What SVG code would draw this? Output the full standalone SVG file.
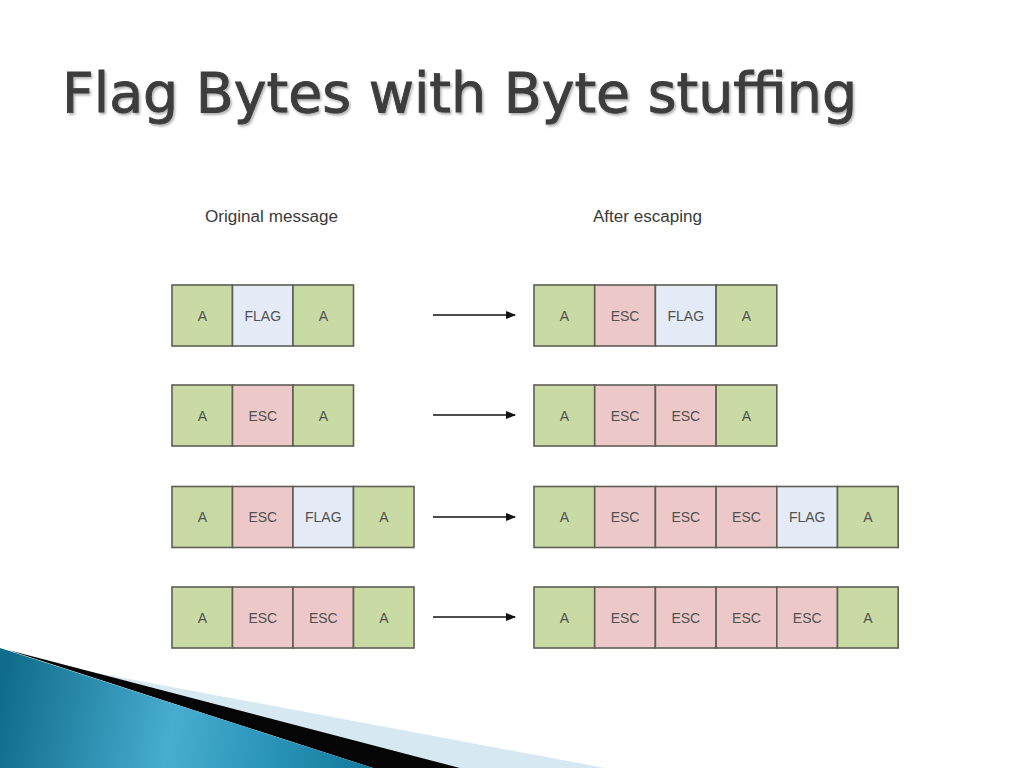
<svg xmlns="http://www.w3.org/2000/svg" width="1024" height="768" viewBox="0 0 1024 768">
<defs>
<style>
.cell{stroke:#5e5e55;stroke-width:1.6}
.a{fill:#cadaa4}
.e{fill:#ecc9c8}
.f{fill:#e5ebf6}
.t{font-family:"Liberation Sans",Arial,sans-serif;font-size:14px;fill:#505050;text-anchor:middle;dominant-baseline:central}
.lbl{font-family:"Liberation Sans",Arial,sans-serif;font-size:16px;fill:#3a3a3a}
.arr{stroke:#111;stroke-width:1.6;fill:none}
</style>
<marker id="ah" markerWidth="10" markerHeight="8" refX="9" refY="4" orient="auto" markerUnits="userSpaceOnUse">
<path d="M0,0 L10,4 L0,8 z" fill="#111"/>
</marker>
<linearGradient id="bg" x1="0" y1="700" x2="380" y2="768" gradientUnits="userSpaceOnUse">
<stop offset="0" stop-color="#106c8a"/>
<stop offset="0.45" stop-color="#48add1"/>
<stop offset="0.75" stop-color="#2690b5"/>
<stop offset="1" stop-color="#117696"/>
</linearGradient>
<filter id="sh" x="-5%" y="-20%" width="110%" height="140%">
<feDropShadow dx="1.5" dy="2" stdDeviation="1.2" flood-color="#000" flood-opacity="0.3"/>
</filter>
</defs>
<rect width="1024" height="768" fill="#ffffff"/>

<g id="decoration">
<polygon points="81,670 605,768 460,768" fill="#d6e8f1"/>
<polygon points="8,650 460,768 373,768" fill="#050505"/>
<polygon points="0,648 373,768 0,768" fill="url(#bg)"/>
</g>

<g id="title">
<text x="62" y="112" font-family="'DejaVu Sans',Verdana,sans-serif" font-size="56" fill="#3c3c3c" stroke="#3c3c3c" stroke-width="0.9" textLength="795" lengthAdjust="spacingAndGlyphs" filter="url(#sh)">Flag Bytes with Byte stuffing</text>
</g>

<g id="labels">
<text class="lbl" x="205" y="222" textLength="133" lengthAdjust="spacingAndGlyphs">Original message</text>
<text class="lbl" x="593" y="222" textLength="109" lengthAdjust="spacingAndGlyphs">After escaping</text>
</g>

<g id="row1-original">
<rect class="cell a" x="172" y="285" width="60.5" height="61"/><text class="t" x="202.3" y="315.5">A</text>
<rect class="cell f" x="232.5" y="285" width="60.5" height="61"/><text class="t" x="262.8" y="315.5">FLAG</text>
<rect class="cell a" x="293" y="285" width="60.5" height="61"/><text class="t" x="323.3" y="315.5">A</text>
</g>
<g id="row1-escaped">
<rect class="cell a" x="534" y="285" width="60.7" height="61"/><text class="t" x="564.4" y="315.5">A</text>
<rect class="cell e" x="594.7" y="285" width="60.7" height="61"/><text class="t" x="625.1" y="315.5">ESC</text>
<rect class="cell f" x="655.4" y="285" width="60.7" height="61"/><text class="t" x="685.8" y="315.5">FLAG</text>
<rect class="cell a" x="716.1" y="285" width="60.7" height="61"/><text class="t" x="746.5" y="315.5">A</text>
</g>

<g id="row2-original">
<rect class="cell a" x="172" y="385" width="60.5" height="61"/><text class="t" x="202.3" y="415.5">A</text>
<rect class="cell e" x="232.5" y="385" width="60.5" height="61"/><text class="t" x="262.8" y="415.5">ESC</text>
<rect class="cell a" x="293" y="385" width="60.5" height="61"/><text class="t" x="323.3" y="415.5">A</text>
</g>
<g id="row2-escaped">
<rect class="cell a" x="534" y="385" width="60.7" height="61"/><text class="t" x="564.4" y="415.5">A</text>
<rect class="cell e" x="594.7" y="385" width="60.7" height="61"/><text class="t" x="625.1" y="415.5">ESC</text>
<rect class="cell e" x="655.4" y="385" width="60.7" height="61"/><text class="t" x="685.8" y="415.5">ESC</text>
<rect class="cell a" x="716.1" y="385" width="60.7" height="61"/><text class="t" x="746.5" y="415.5">A</text>
</g>

<g id="row3-original">
<rect class="cell a" x="172" y="486.5" width="60.5" height="61"/><text class="t" x="202.3" y="517">A</text>
<rect class="cell e" x="232.5" y="486.5" width="60.5" height="61"/><text class="t" x="262.8" y="517">ESC</text>
<rect class="cell f" x="293" y="486.5" width="60.5" height="61"/><text class="t" x="323.3" y="517">FLAG</text>
<rect class="cell a" x="353.5" y="486.5" width="60.5" height="61"/><text class="t" x="383.8" y="517">A</text>
</g>
<g id="row3-escaped">
<rect class="cell a" x="534" y="486.5" width="60.7" height="61"/><text class="t" x="564.4" y="517">A</text>
<rect class="cell e" x="594.7" y="486.5" width="60.7" height="61"/><text class="t" x="625.1" y="517">ESC</text>
<rect class="cell e" x="655.4" y="486.5" width="60.7" height="61"/><text class="t" x="685.8" y="517">ESC</text>
<rect class="cell e" x="716.1" y="486.5" width="60.7" height="61"/><text class="t" x="746.5" y="517">ESC</text>
<rect class="cell f" x="776.8" y="486.5" width="60.7" height="61"/><text class="t" x="807.2" y="517">FLAG</text>
<rect class="cell a" x="837.5" y="486.5" width="60.7" height="61"/><text class="t" x="867.9" y="517">A</text>
</g>

<g id="row4-original">
<rect class="cell a" x="172" y="587" width="60.5" height="61"/><text class="t" x="202.3" y="617.5">A</text>
<rect class="cell e" x="232.5" y="587" width="60.5" height="61"/><text class="t" x="262.8" y="617.5">ESC</text>
<rect class="cell e" x="293" y="587" width="60.5" height="61"/><text class="t" x="323.3" y="617.5">ESC</text>
<rect class="cell a" x="353.5" y="587" width="60.5" height="61"/><text class="t" x="383.8" y="617.5">A</text>
</g>
<g id="row4-escaped">
<rect class="cell a" x="534" y="587" width="60.7" height="61"/><text class="t" x="564.4" y="617.5">A</text>
<rect class="cell e" x="594.7" y="587" width="60.7" height="61"/><text class="t" x="625.1" y="617.5">ESC</text>
<rect class="cell e" x="655.4" y="587" width="60.7" height="61"/><text class="t" x="685.8" y="617.5">ESC</text>
<rect class="cell e" x="716.1" y="587" width="60.7" height="61"/><text class="t" x="746.5" y="617.5">ESC</text>
<rect class="cell e" x="776.8" y="587" width="60.7" height="61"/><text class="t" x="807.2" y="617.5">ESC</text>
<rect class="cell a" x="837.5" y="587" width="60.7" height="61"/><text class="t" x="867.9" y="617.5">A</text>
</g>

<g id="connectors">
<line class="arr" x1="433" y1="315" x2="515" y2="315" marker-end="url(#ah)"/>
<line class="arr" x1="433" y1="415" x2="515" y2="415" marker-end="url(#ah)"/>
<line class="arr" x1="433" y1="517" x2="515" y2="517" marker-end="url(#ah)"/>
<line class="arr" x1="433" y1="617" x2="515" y2="617" marker-end="url(#ah)"/>
</g>
</svg>
